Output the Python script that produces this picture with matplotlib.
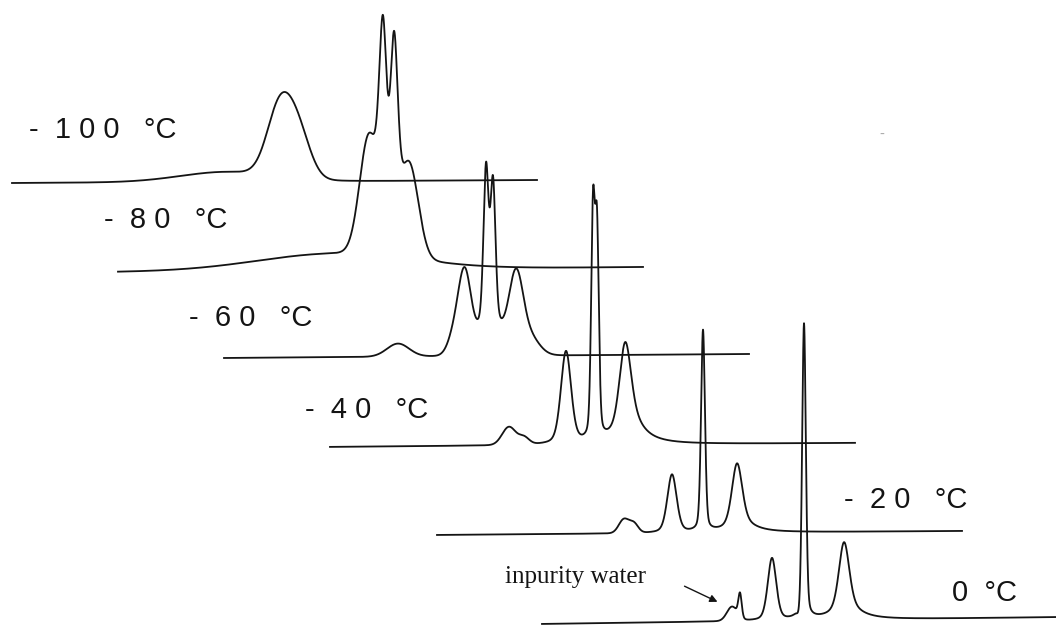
import numpy as np
import matplotlib
matplotlib.use("Agg")
import matplotlib.pyplot as plt

# Variable-temperature spectra, top trace (coldest) first.
TEMPS = ["- 100 °C", "- 80 °C", "- 60 °C", "- 40 °C", "- 20 °C", "0 °C"]

# Peak lists per temperature: (position, height, half width, lorentzian fraction)
# position is measured along the trace from its left end.
PEAKS_M100 = [(215, 10, 55, 0.0), (268, 70, 15, 0.0), (287, 40, 14, 0.0)]
PEAKS_M80 = [(215, 16, 90, 0.0), (251, 115, 11, 0.0), (265, 192, 4.5, 0.3),
             (276, 188, 4.5, 0.3), (291, 92, 11, 0.0)]
PEAKS_M60 = [(174, 13, 13, 0.0), (232, 25, 8, 0.0), (241, 68, 7, 0.0),
             (266, 30, 19, 0.0), (262, 156, 3.0, 0.3), (269, 141, 3.0, 0.3),
             (292, 68, 8, 0.0), (304, 20, 12, 0.0)]
PEAKS_M40 = [(179, 18, 8, 0.0), (194, 7, 6, 0.0), (236, 92, 6, 0.3),
             (263, 222, 2.2, 0.3), (267, 200, 2.2, 0.3), (295, 75, 6.5, 0.3),
             (300, 30, 14, 1.0)]
PEAKS_M20 = [(187, 14, 6, 0.0), (197, 9, 5, 0.0), (235, 58, 5.5, 0.3),
             (266, 201, 2.3, 0.3), (300, 60, 6, 0.3), (305, 10, 15, 1.0)]
PEAKS_0 = [(190, 14, 6, 0.0), (198, 24, 2, 0.2), (230, 62, 5, 0.3),
           (257, -6, 2, 0.0), (262, 295, 2.2, 0.3), (302, 64, 6, 0.3),
           (305, 14, 15, 1.0)]
PEAK_LISTS = [PEAKS_M100, PEAKS_M80, PEAKS_M60, PEAKS_M40, PEAKS_M20, PEAKS_0]

# Stacking layout (figure pixels): left end of each trace and its baseline
TRACE_X0 = [12, 118, 224, 330, 437, 542]
BASE_LEFT = [183, 272, 358, 447, 535, 624]
BASE_RIGHT = [180, 267, 354, 443, 531, 617]
TRACE_LEN = 525

LABEL_XY = [(29, 130), (104, 220), (189, 318), (305, 410), (844, 500), (952, 593)]
LABEL_TEXT = ["-  1 0 0   °C", "-  8 0   °C", "-  6 0   °C", "-  4 0   °C",
              "-  2 0   °C", "0  °C"]


def line_shape(x, peaks):
    """Sum of pseudo-Voigt lines."""
    y = np.zeros_like(x)
    for c, h, w, eta in peaks:
        d = (x - c) / w
        y += h * (eta / (1 + d ** 2) + (1 - eta) * np.exp(-np.log(2) * d ** 2))
    return y


fig = plt.figure(figsize=(10.56, 6.28), dpi=100)
ax = fig.add_axes([0, 0, 1, 1])
ax.set_xlim(0, 1056)
ax.set_ylim(628, 0)
ax.axis("off")

x = np.linspace(0, TRACE_LEN, 6000)
for peaks, x0, bl, br in zip(PEAK_LISTS, TRACE_X0, BASE_LEFT, BASE_RIGHT):
    base = bl + (br - bl) * x / TRACE_LEN
    ax.plot(x0 + x, base - line_shape(x, peaks), color="#141414", lw=1.3,
            solid_joinstyle="round")

for (lx, ly), txt in zip(LABEL_XY, LABEL_TEXT):
    ax.text(lx, ly, txt, fontsize=21, family="Liberation Sans", color="#141414",
            ha="left", va="center")

ax.annotate("", xy=(720, 603), xytext=(682, 585),
            arrowprops=dict(arrowstyle="-|>", color="#141414", lw=1.0,
                            mutation_scale=11))
ax.text(505, 577, "inpurity water", fontsize=18, family="Liberation Serif",
        color="#141414", ha="left", va="center")
ax.text(882, 135, "-", fontsize=10, color="#aaaaaa", ha="center", va="center")

fig.savefig("out.png", dpi=100, facecolor="white")
